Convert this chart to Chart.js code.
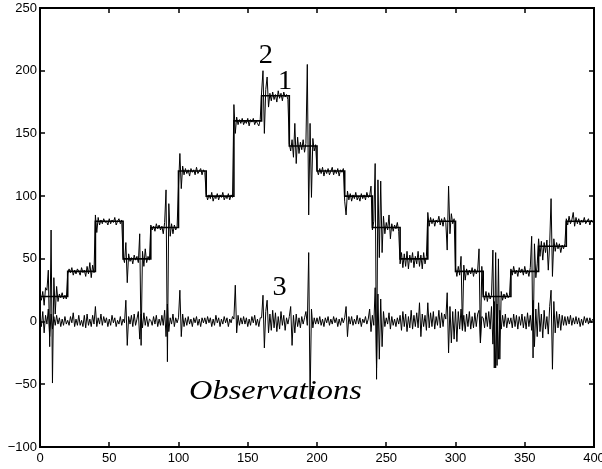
<!DOCTYPE html>
<html>
<head>
<meta charset="utf-8">
<script src="https://cdn.jsdelivr.net/npm/chart.js@4/dist/chart.umd.min.js"></script>
<style>
  html, body { margin: 0; padding: 0; background: #fff; overflow: hidden; }
  #c { display: block; }
</style>
</head>
<body>
<canvas id="c" width="602" height="469"></canvas>
<script>
// Piecewise-constant signal: level held from each breakpoint to the next
const stepBreaks = [0, 20, 40, 60, 80, 100, 120, 140, 160, 180, 200, 220, 240, 260, 280, 300, 320, 340, 360, 380, 400];
const stepLevels = [20, 40, 80, 50, 75, 120, 100, 160, 180, 140, 120, 100, 75, 50, 80, 40, 20, 40, 60, 80, 80];

// Noisy observations, samples 0..399
const observations = [
  21, 17, 24, 13, 27, 25, 41, -20, 73, -49, 35, 6, 28, 16, 22, 19, 23, 18, 21, 18,
  38, 42, 39, 43, 37, 41, 38, 42, 40, 37, 43, 39, 41, 36, 44, 38, 47, 35, 45, 39,
  85, 71, 83, 77, 81, 78, 82, 79, 80, 77, 82, 78, 81, 79, 83, 77, 80, 82, 78, 81,
  52, 47, 63, 31, 54, 48, 51, 46, 53, 49, 52, 47, 70, -19, 56, 44, 58, 47, 52, 49,
  77, 73, 76, 72, 78, 74, 77, 73, 76, 70, 79, 105, -32, 94, 68, 78, 70, 77, 73, 76,
  108, 134, 106, 124, 117, 122, 118, 121, 116, 122, 119, 121, 117, 123, 118, 120, 122, 117, 121, 119,
  102, 97, 101, 98, 103, 96, 100, 98, 102, 97, 101, 99, 103, 97, 100, 98, 102, 97, 101, 99,
  173, 150, 163, 157, 161, 158, 162, 157, 160, 158, 162, 156, 161, 159, 162, 157, 160, 158, 156, 161,
  183, 200, 150, 185, 195, 171, 182, 176, 183, 177, 181, 175, 184, 178, 182, 176, 183, 179, 181, 177,
  142, 136, 145, 131, 158, 126, 147, 134, 143, 137, 145, 135, 142, 205, 85, 158, 99, 146, 136, 141,
  121, 117, 122, 118, 123, 116, 121, 118, 122, 117, 120, 123, 117, 121, 118, 122, 116, 121, 119, 122,
  96, 85, 104, 97, 102, 96, 101, 98, 103, 97, 100, 96, 102, 98, 101, 97, 103, 99, 100, 108,
  73, 80, 126, -46, 113, 51, 112, 55, 84, 70, 79, 73, 85, 66, 78, 72, 77, 74, 79, 72,
  46, 55, 43, 54, 44, 56, 42, 53, 47, 55, 43, 52, 46, 56, 44, 53, 42, 55, 46, 52,
  87, 76, 83, 78, 82, 76, 81, 79, 84, 77, 82, 76, 83, 79, 57, 108, 70, 86, 78, 82,
  43, 36, 44, 37, 52, -7, 45, 33, 42, 37, 41, 38, 43, 36, 42, 38, 41, 58, -17, 44,
  22, 17, 24, 16, 23, 18, 21, 57, -37, 55, -35, 50, -30, 24, 17, 22, 18, 23, 19, 21,
  42, 37, 44, 38, 41, 36, 43, 39, 42, 37, 44, 38, 41, 36, 43, 68, -29, 62, 35, 46,
  66, 52, 64, 49, 63, 55, 65, 41, 62, 98, 36, 66, 56, 63, 58, 62, 55, 61, 58, 62,
  82, 77, 84, 78, 81, 87, 76, 83, 78, 82, 77, 81, 79, 83, 78, 80, 82, 77, 81, 79
];

// Zero-mean residual sequence, samples 0..399
const residuals = [
  3, -4, 8, -9, 5, -2, 10, -12, 6, -6, 4, -3, 5, -2, 3, -4, 2, -3, 4, -2,
  1, -3, 4, -1, 7, -4, 2, -3, 5, -3, 1, -4, 5, -5, 6, -3, 2, -4, 5, -2,
  12, -4, 3, -2, 6, -3, 4, -1, 3, -4, 2, -3, 5, -1, 3, -4, 1, -2, 4, -3,
  2, -1, 17, -19, 4, -2, 5, -4, 6, -3, 2, 8, -14, 6, -5, 7, -3, 4, -4, 2,
  1, -3, 4, -2, 5, -4, 2, -3, 5, -3, 9, -12, 14, -8, 3, -2, 6, -4, 3, -1,
  3, 25, -12, 6, -4, 3, -3, 4, -2, 2, -4, 3, -1, 4, -3, 2, -4, 3, -1, 3,
  -2, 4, -1, 3, -4, 2, -3, 5, -1, 3, -4, 2, -2, 4, -1, 3, -4, 2, -1, 4,
  2, 29, -9, 5, -3, 3, -2, 4, -2, 3, -4, 2, -3, 4, -1, 5, -3, 2, -4, 3,
  3, 21, -21, 8, 17, -9, 6, -7, 9, -5, 7, -8, 4, -6, 8, -3, 5, -7, 3, -2,
  4, 12, -19, 5, -9, 6, -4, 3, -5, 4, -2, 3, 8, -3, 55, -62, 10, -5, 3, -2,
  3, -2, 4, -3, 2, -4, 3, -1, 4, -3, 2, -2, 4, -1, 3, -4, 2, -3, 3, -1,
  3, 12, -12, 4, -2, 4, -3, 2, -2, 5, -2, 3, -4, 2, -1, 4, -2, 2, 10, -8,
  5, -3, 27, -37, 22, -30, 18, -20, 8, -4, 3, -2, 7, -6, 4, -3, 2, -4, 3, -2,
  5, -7, 8, -4, 6, -8, 4, -5, 9, -6, 5, -4, 7, -5, 15, -12, 6, -4, 5, -7,
  15, -5, 7, -4, 8, -6, 4, -3, 9, -5, 7, -4, 6, 2, 23, -25, 12, -17, 8, -14,
  10, -16, 8, -6, 10, -7, 5, -8, 6, -4, 8, -6, 4, -5, 7, -4, 6, 9, -17, 4,
  3, -5, 7, -4, 8, -6, 12, -18, 16, -37, 14, -30, 9, -6, 5, -4, 6, -5, 3, -2,
  3, -5, 6, -4, 5, -6, 4, -3, 6, -5, 4, -6, 7, -4, 5, -7, 17, -20, 10, -12,
  15, -8, 6, -13, 9, -6, 4, -10, 12, 25, -38, 16, -9, 8, -5, 6, -7, 5, -3, 4,
  -3, 4, -2, 5, -3, 3, -2, 4, -2, 3, -4, 2, -3, 4, -1, 3, -2, 3, -1, 2
];

// Axis ticks
const xTicks = [0, 50, 100, 150, 200, 250, 300, 350, 400];
const yTicks = [-100, -50, 0, 50, 100, 150, 200, 250];

// Curve annotations (text and anchor in data units)
const noteText = ['2', '1', '3', 'Observations'];
const noteX = [163, 177, 173, 170];
const noteY = [212, 191, 27, -56];

const toPoints = (arr) => arr.map((v, i) => ({ x: i, y: v }));
const stepPoints = stepBreaks.map((b, i) => ({ x: b, y: stepLevels[i] }));

const fmt = (v) => (v < 0 ? '\u2212' + Math.abs(v) : String(v));

// Inward tick marks on all four sides plus the enclosing box
const framePlugin = {
  id: 'axisBox',
  afterDraw(chart) {
    const { ctx, chartArea: a, scales } = chart;
    const L = Math.round(a.left), R = Math.round(a.right);
    const T = Math.round(a.top), B = Math.round(a.bottom);
    const len = 5;
    ctx.save();
    ctx.fillStyle = '#000';
    ctx.fillRect(L - 1, T - 1, R - L + 2, 2);
    ctx.fillRect(L - 1, B - 1, R - L + 2, 2);
    ctx.fillRect(L - 1, T - 1, 2, B - T + 2);
    ctx.fillRect(R - 1, T - 1, 2, B - T + 2);
    xTicks.forEach((t) => {
      const px = Math.round(scales.x.getPixelForValue(t));
      ctx.fillRect(px - 0.75, B - len, 1.5, len);
      ctx.fillRect(px - 0.75, T, 1.5, len);
    });
    yTicks.forEach((t) => {
      const py = Math.round(scales.y.getPixelForValue(t));
      ctx.fillRect(L, py - 0.75, len, 1.5);
      ctx.fillRect(R - len, py - 0.75, len, 1.5);
    });
    ctx.restore();
  }
};

// Serif annotations placed through the scales
const notesPlugin = {
  id: 'curveNotes',
  afterDraw(chart) {
    const { ctx, scales } = chart;
    noteText.forEach((t, i) => {
      const italic = t.length > 1;
      const px = scales.x.getPixelForValue(noteX[i]);
      const py = scales.y.getPixelForValue(noteY[i]);
      ctx.save();
      ctx.fillStyle = '#000';
      ctx.textAlign = 'center';
      ctx.textBaseline = 'middle';
      ctx.translate(px, py);
      ctx.scale(italic ? 1.2 : 1.05, 1);
      ctx.font = (italic ? 'italic ' : '') + '27px "Liberation Serif", "DejaVu Serif", serif';
      ctx.fillText(t, 0, 0);
      ctx.restore();
    });
  }
};

const tickFont = { family: '"Liberation Sans", Arial, Helvetica, sans-serif', size: 13 };
const axisBorder = { display: true, color: '#000', width: 2 };

new Chart(document.getElementById('c'), {
  type: 'line',
  data: {
    datasets: [
      { label: 'signal', data: stepPoints, stepped: true, borderColor: '#000', borderWidth: 1.6, pointRadius: 0, fill: false, order: 0 },
      { label: 'observations', data: toPoints(observations), borderColor: '#000', borderWidth: 1, pointRadius: 0, tension: 0, fill: false, order: 1 },
      { label: 'residuals', data: toPoints(residuals), borderColor: '#000', borderWidth: 1, pointRadius: 0, tension: 0, fill: false, order: 2 }
    ]
  },
  options: {
    responsive: false,
    animation: false,
    events: [],
    layout: { padding: { top: 8, right: 8, left: 0, bottom: 0 } },
    plugins: { legend: { display: false }, tooltip: { enabled: false } },
    scales: {
      x: {
        type: 'linear', position: 'bottom', min: 0, max: 400,
        afterBuildTicks: (s) => { s.ticks = xTicks.map((v) => ({ value: v })); },
        ticks: { font: tickFont, color: '#000', padding: 4, maxRotation: 0, autoSkip: false, callback: fmt },
        grid: { display: false, drawTicks: false, tickLength: 0 },
        border: axisBorder,
        afterFit: (s) => { s.height = 22; s.paddingLeft = 0; s.paddingRight = 0; }
      },
      xTop: {
        type: 'linear', position: 'top', min: 0, max: 400,
        ticks: { display: false },
        grid: { display: false, drawTicks: false, tickLength: 0 },
        border: axisBorder,
        afterFit: (s) => { s.height = 0; s.paddingLeft = 0; s.paddingRight = 0; }
      },
      y: {
        type: 'linear', position: 'left', min: -100, max: 250,
        afterBuildTicks: (s) => { s.ticks = yTicks.map((v) => ({ value: v })); },
        ticks: { font: tickFont, color: '#000', padding: 3, autoSkip: false, callback: fmt },
        grid: { display: false, drawTicks: false, tickLength: 0 },
        border: axisBorder,
        afterFit: (s) => { s.width = 40; s.paddingTop = 0; s.paddingBottom = 0; }
      },
      yRight: {
        type: 'linear', position: 'right', min: -100, max: 250,
        ticks: { display: false },
        grid: { display: false, drawTicks: false, tickLength: 0 },
        border: axisBorder,
        afterFit: (s) => { s.width = 0; s.paddingTop = 0; s.paddingBottom = 0; }
      }
    }
  },
  plugins: [framePlugin, notesPlugin]
});
</script>
</body>
</html>
